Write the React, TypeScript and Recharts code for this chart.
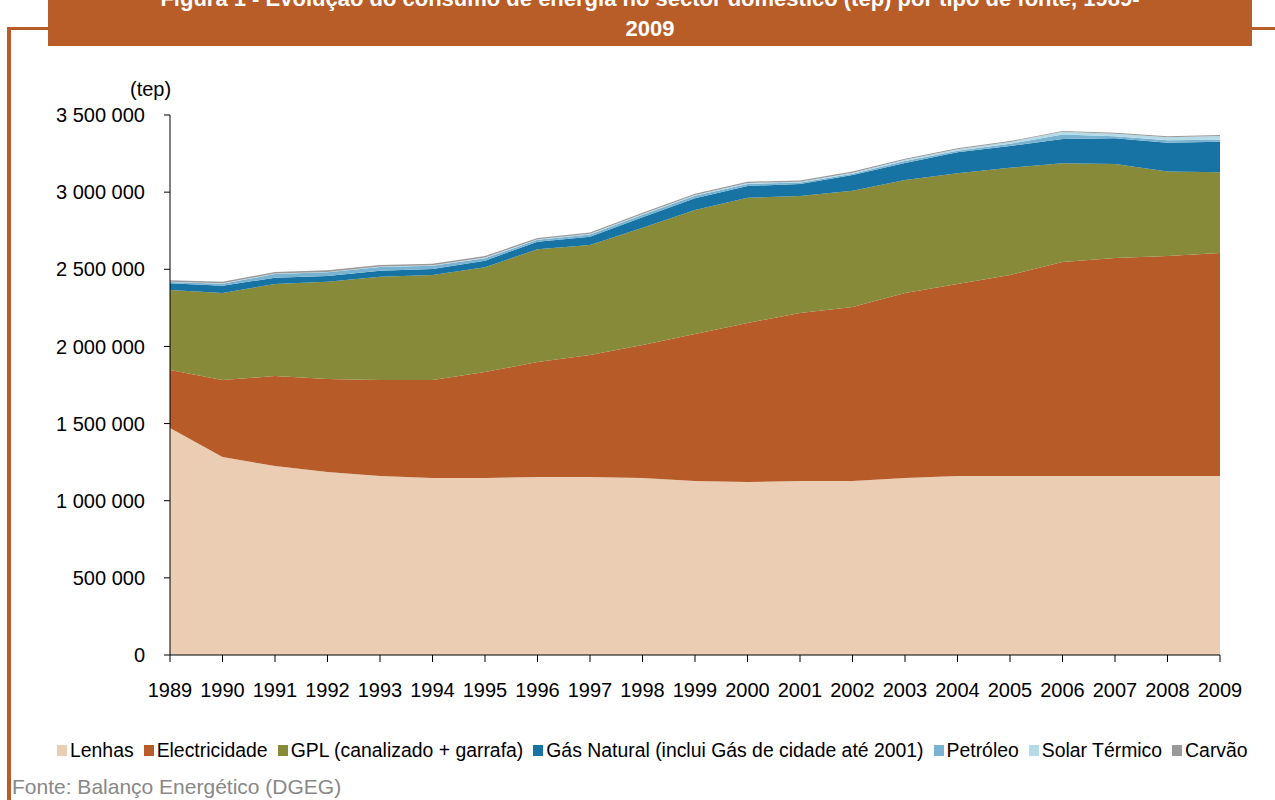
import { Area, AreaChart, Legend, XAxis, YAxis } from "recharts";

const years = [
  "1989", "1990", "1991", "1992", "1993", "1994", "1995", "1996", "1997", "1998",
  "1999", "2000", "2001", "2002", "2003", "2004", "2005", "2006", "2007", "2008", "2009",
];

// tep
const lenhas = [
  1471000, 1283000, 1225000, 1186000, 1160000, 1147000, 1147000, 1154000, 1154000, 1147000,
  1128000, 1121000, 1128000, 1128000, 1147000, 1160000, 1160000, 1160000, 1160000, 1160000, 1160000,
];
const electricidade = [
  376000, 499000, 583000, 603000, 622000, 635000, 687000, 745000, 790000, 862000,
  953000, 1031000, 1089000, 1128000, 1199000, 1245000, 1303000, 1387000, 1413000, 1426000, 1446000,
];
const gpl = [
  519000, 564000, 597000, 631000, 670000, 681000, 679000, 731000, 713000, 761000,
  803000, 812000, 758000, 753000, 733000, 717000, 695000, 640000, 609000, 547000, 523000,
];
const gasNatural = [
  43000, 48000, 40000, 36000, 39000, 39000, 43000, 49000, 54000, 67000,
  76000, 76000, 78000, 102000, 110000, 136000, 141000, 157000, 167000, 187000, 198000,
];
const petroleo = [
  8000, 13000, 24000, 24000, 24000, 21000, 16000, 12000, 15000, 16000,
  16000, 13000, 9000, 8000, 13000, 11000, 15000, 30000, 14000, 16000, 13000,
];
const solar = [
  2000, 2000, 3000, 3000, 3000, 3000, 4000, 4000, 4000, 5000,
  5000, 6000, 6000, 7000, 8000, 9000, 11000, 17000, 16000, 20000, 24000,
];
const carvao = [
  10000, 10000, 10000, 10000, 10000, 10000, 10000, 8000, 8000, 8000,
  8000, 8000, 8000, 8000, 6000, 6000, 6000, 6000, 6000, 6000, 6000,
];

const yTicks = [0, 500000, 1000000, 1500000, 2000000, 2500000, 3000000, 3500000];

const series = [
  { key: "lenhas", name: "Lenhas", color: "#EACDB2", values: lenhas },
  { key: "electricidade", name: "Electricidade", color: "#B75B28", values: electricidade },
  { key: "gpl", name: "GPL (canalizado + garrafa)", color: "#878A38", values: gpl },
  { key: "gas", name: "Gás Natural (inclui Gás de cidade até 2001)", color: "#1673A3", values: gasNatural },
  { key: "petroleo", name: "Petróleo", color: "#7AB3D1", values: petroleo },
  { key: "solar", name: "Solar Térmico", color: "#B5DBE8", values: solar },
  { key: "carvao", name: "Carvão", color: "#999999", values: carvao },
];

const data = years.map((year, i) => {
  const row: Record<string, string | number> = { year };
  series.forEach((s) => {
    row[s.key] = s.values[i];
  });
  return row;
});

const font = '"Liberation Sans", Arial, sans-serif';
const orange = "#B85C28";

const fmt = (v: number) => String(v).replace(/\B(?=(\d{3})+(?!\d))/g, " ");

function LegendBox() {
  return (
    <div style={{ display: "flex", alignItems: "center", fontFamily: font, fontSize: 19.4, color: "#000", whiteSpace: "nowrap" }}>
      {series.map((s) => (
        <span key={s.key} style={{ display: "flex", alignItems: "center", marginRight: 10 }}>
          <span style={{ width: 10, height: 11, background: s.color, marginRight: 3, display: "inline-block" }} />
          {s.name}
        </span>
      ))}
    </div>
  );
}

export default function App() {
  return (
    <div style={{ position: "absolute", left: 0, top: 0, width: 1275, height: 800, overflow: "hidden", background: "#fff", fontFamily: font }}>
      {/* title bar, first line cut by the page edge */}
      <div
        style={{
          position: "absolute",
          left: 48,
          top: -16,
          width: 1204,
          height: 62,
          background: orange,
          color: "#fff",
          fontWeight: "bold",
          fontSize: 22,
          lineHeight: "30px",
          textAlign: "center",
          whiteSpace: "nowrap",
        }}
      >
        Figura 1 - Evolução do consumo de energia no sector doméstico (tep) por tipo de fonte, 1989-
        <br />
        2009
      </div>
      <div style={{ position: "absolute", left: 7, top: 27, width: 4, height: 773, background: orange }} />
      <div style={{ position: "absolute", left: 7, top: 27, width: 41, height: 3, background: orange }} />
      <div style={{ position: "absolute", left: 1252, top: 27, width: 23, height: 3, background: orange }} />

      <div style={{ position: "absolute", left: 0, top: 0 }}>
        <AreaChart width={1275} height={800} data={data} margin={{ top: 115, right: 55, bottom: 105, left: 0 }}>
          <XAxis
            dataKey="year"
            interval={0}
            height={40}
            tickSize={7}
            tickMargin={21}
            axisLine={{ stroke: "#000" }}
            tickLine={{ stroke: "#000" }}
            tick={{ fill: "#000", fontSize: 20, fontFamily: font }}
          />
          <YAxis
            width={170}
            domain={[0, 3500000]}
            ticks={yTicks}
            tickFormatter={fmt}
            tickSize={6}
            tickMargin={19}
            axisLine={{ stroke: "#000" }}
            tickLine={{ stroke: "#000" }}
            tick={{ fill: "#000", fontSize: 20, fontFamily: font }}
          />
          {series.map((s) => (
            <Area
              key={s.key}
              type="linear"
              dataKey={s.key}
              name={s.name}
              stackId="1"
              stroke="none"
              fill={s.color}
              fillOpacity={1}
              isAnimationActive={false}
            />
          ))}
          <Legend
            verticalAlign="middle"
            align="center"
            content={() => <LegendBox />}
            wrapperStyle={{ left: 57, top: 739, width: 1215 }}
          />
        </AreaChart>
      </div>

      <div style={{ position: "absolute", left: 130, top: 78, fontSize: 20, color: "#000" }}>(tep)</div>
      <div style={{ position: "absolute", left: 12, top: 775, fontSize: 21, color: "#888" }}>
        Fonte: Balanço Energético (DGEG)
      </div>
    </div>
  );
}
